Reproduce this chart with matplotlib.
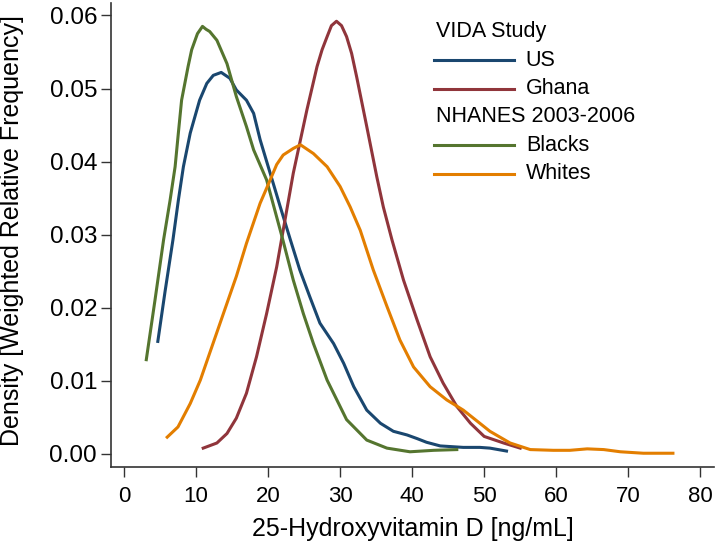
import matplotlib.pyplot as plt
from matplotlib.lines import Line2D

plt.rcParams['font.family'] = ['Liberation Sans', 'DejaVu Sans']

# Values
us_x = [4.7, 5.7, 6.8, 7.55, 8.25, 9.2, 10.5, 11.5, 12.4, 13.5, 14.7, 15.6, 17.0,
        18.0, 18.9, 20.3, 21.7, 23.1, 24.4, 25.8, 27.2, 29.1, 30.5, 31.9, 33.7,
        35.6, 37.4, 39.3, 40.7, 42.0, 43.9, 47.1, 49.4, 50.8, 53.1]
us_y = [0.0154, 0.0222, 0.0293, 0.0347, 0.0393, 0.0439, 0.0484, 0.0507, 0.0518,
        0.0522, 0.0514, 0.0498, 0.0484, 0.0466, 0.0430, 0.0384, 0.0338, 0.0293,
        0.0252, 0.0215, 0.0179, 0.0151, 0.0124, 0.0092, 0.0060, 0.0042, 0.0031,
        0.0026, 0.0021, 0.0016, 0.0011, 0.0009, 0.0009, 0.0008, 0.0004]

ghana_x = [11.0, 12.9, 14.3, 15.6, 17.0, 18.4, 19.8, 21.2, 22.1, 23.5, 25.4, 26.8,
           27.5, 28.2, 28.8, 29.5, 30.2, 30.9, 31.6, 32.3, 33.7, 35.1, 36.0, 37.2,
           38.8, 40.7, 42.5, 44.3, 46.2, 48.1, 50.0, 52.7, 55.0]
ghana_y = [0.0008, 0.0015, 0.0028, 0.0049, 0.0083, 0.0133, 0.0192, 0.0256, 0.0306,
           0.0384, 0.0471, 0.0530, 0.0553, 0.0571, 0.0586, 0.0592, 0.0586, 0.0571,
           0.0548, 0.0516, 0.0448, 0.0379, 0.0338, 0.0293, 0.0238, 0.0183, 0.0133,
           0.0097, 0.0065, 0.0042, 0.0024, 0.0015, 0.0008]

blacks_x = [3.1, 4.3, 5.5, 6.4, 7.1, 7.55, 8.0, 8.9, 9.4, 10.2, 10.9, 11.4, 11.9,
            12.9, 14.3, 15.6, 17.0, 18.0, 19.8, 22.0, 23.5, 24.9, 26.3, 28.2, 30.9,
            33.7, 36.5, 39.7, 43.0, 46.2]
blacks_y = [0.0129, 0.0210, 0.0293, 0.0347, 0.0393, 0.0439, 0.0484, 0.0530, 0.0553,
            0.0575, 0.0585, 0.0581, 0.0578, 0.0566, 0.0534, 0.0489, 0.0448, 0.0416,
            0.0375, 0.0295, 0.0238, 0.0192, 0.0151, 0.0101, 0.0047, 0.0019, 0.0008,
            0.0003, 0.0005, 0.0006]

whites_x = [6.0, 7.5, 9.2, 10.6, 11.9, 13.8, 15.6, 17.0, 18.9, 20.3, 21.2, 22.1,
            23.5, 24.5, 26.3, 28.2, 30.0, 31.4, 32.8, 34.6, 36.5, 38.3, 40.2, 42.5,
            44.8, 47.1, 49.4, 50.8, 53.6, 56.4, 59.6, 61.9, 64.3, 66.6, 68.9, 72.1,
            76.2]
whites_y = [0.0023, 0.0037, 0.0069, 0.0101, 0.0138, 0.0192, 0.0243, 0.0288, 0.0343,
            0.0375, 0.0396, 0.0409, 0.0418, 0.0423, 0.0411, 0.0393, 0.0366, 0.0338,
            0.0306, 0.0252, 0.0202, 0.0156, 0.0119, 0.0092, 0.0074, 0.0060, 0.0042,
            0.0031, 0.0015, 0.0006, 0.0005, 0.0005, 0.0007, 0.0006, 0.0003, 0.0001,
            0.0001]

x_ticks = [0, 10, 20, 30, 40, 50, 60, 70, 80]
y_ticks = [0.00, 0.01, 0.02, 0.03, 0.04, 0.05, 0.06]

c_us, c_ghana, c_blacks, c_whites = '#1a476f', '#90353b', '#55752f', '#e37e00'

fig = plt.figure(figsize=(7.17, 5.43), dpi=100)
ax = fig.add_axes([0.1548, 0.14, 0.841, 0.8545])

lw = 2.2
ax.plot(us_x, us_y, color=c_us, lw=lw)
ax.plot(ghana_x, ghana_y, color=c_ghana, lw=lw)
ax.plot(blacks_x, blacks_y, color=c_blacks, lw=lw)
ax.plot(whites_x, whites_y, color=c_whites, lw=lw)

ax.set_xlim(-1.8, 81.9)
ax.set_ylim(-0.00178, 0.0617)
ax.set_xticks(x_ticks)
ax.set_yticks(y_ticks)
ax.set_yticklabels([f'{v:.2f}' for v in y_ticks])
ax.tick_params(axis='both', length=7, width=1, color='#333333')
ax.tick_params(axis='x', pad=7, labelsize=16)
ax.tick_params(axis='y', pad=3, labelsize=17.5)
for s in ['top', 'right']:
    ax.spines[s].set_visible(False)
for s in ['left', 'bottom']:
    ax.spines[s].set_linewidth(1.2)
    ax.spines[s].set_color('#333333')

ax.set_xlabel('25-Hydroxyvitamin D [ng/mL]', fontsize=18, labelpad=7)
ax.set_ylabel('Density [Weighted Relative Frequency]', fontsize=18)
ax.yaxis.set_label_coords(-0.145, 0.51)

# Grouped legend (Stata style), drawn in axes coordinates
rows = [('VIDA Study', None), ('US', c_us), ('Ghana', c_ghana),
        ('NHANES 2003-2006', None), ('Blacks', c_blacks), ('Whites', c_whites)]
y0, dy = 0.9375, 0.061
for i, (label, color) in enumerate(rows):
    yy = y0 - i * dy
    if color is None:
        ax.text(0.539, yy, label, transform=ax.transAxes, fontsize=15.5,
                va='center', ha='left')
    else:
        ax.add_line(Line2D([0.536, 0.668], [yy, yy], color=color, lw=lw,
                           transform=ax.transAxes))
        ax.text(0.688, yy, label, transform=ax.transAxes, fontsize=15.5,
                va='center', ha='left')

fig.savefig('out.png', dpi=100)
